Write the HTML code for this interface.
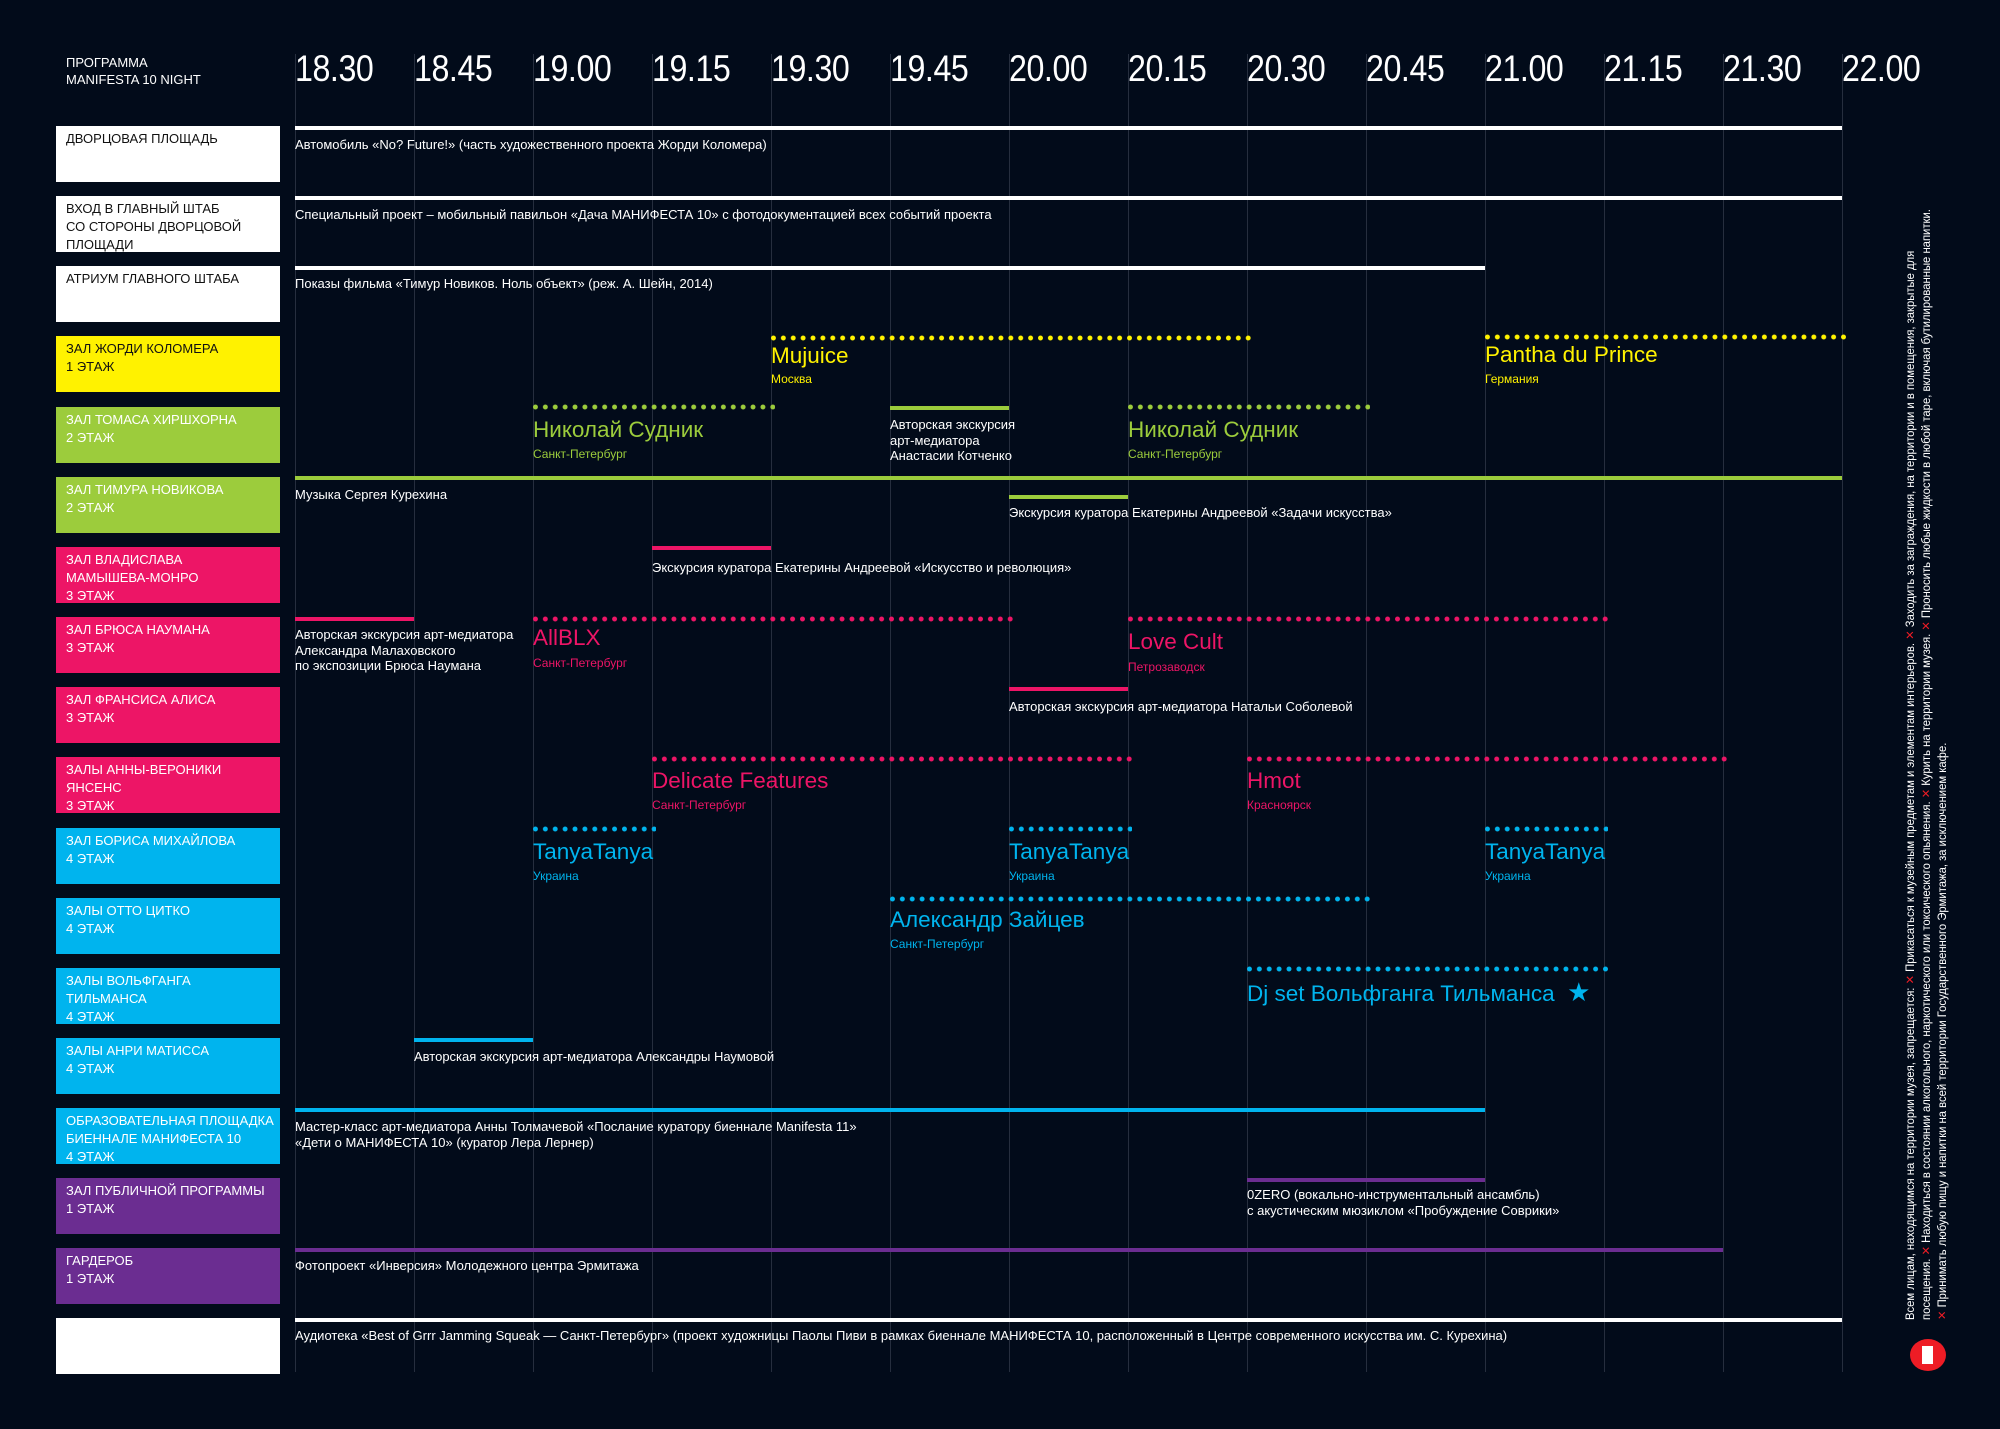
<!DOCTYPE html>
<html><head><meta charset="utf-8">
<style>
*{margin:0;padding:0;box-sizing:border-box}
body{width:2000px;height:1429px;background:#020b1a;position:relative;overflow:hidden;font-family:"Liberation Sans","DejaVu Sans",sans-serif;color:#fff}
.g{position:absolute;top:54px;height:1318px;width:1px;background:#262e3e}
.t{position:absolute;top:48px;font-size:37px;transform:scaleX(0.87);transform-origin:left top;color:#fff;letter-spacing:-0.5px}
.b{position:absolute;left:56px;width:224px;height:56px;font-size:13px;line-height:18px;padding:4px 0 0 10px;color:#fff}
.s{position:absolute;height:4px}
.d{position:absolute;height:6px;background-image:radial-gradient(circle,currentColor 2.2px,transparent 2.7px);background-size:9.9px 6px;background-repeat:repeat-x;background-position:-2.5px 0}
.e{position:absolute;font-size:13px;line-height:15.5px;white-space:nowrap;color:#fff}
.n{position:absolute;font-size:22.5px;white-space:nowrap;line-height:26px}
.c{position:absolute;font-size:12px;white-space:nowrap;line-height:14px}
.W{background:#fff}.Y{background:#fff200}.G{background:#9ccc3c}.P{background:#ed1566}.B{background:#00b4ee}.V{background:#6b2d91}
.cy{color:#fff200}.cg{color:#9ccc3c}.cp{color:#ed1566}.cb{color:#00b4ee}
</style></head><body>

<div class="g" style="left:295px"></div><div class="g" style="left:414px"></div><div class="g" style="left:533px"></div><div class="g" style="left:652px"></div><div class="g" style="left:771px"></div><div class="g" style="left:890px"></div><div class="g" style="left:1009px"></div><div class="g" style="left:1128px"></div><div class="g" style="left:1247px"></div><div class="g" style="left:1366px"></div><div class="g" style="left:1485px"></div><div class="g" style="left:1604px"></div><div class="g" style="left:1723px"></div><div class="g" style="left:1842px"></div>

<div style="position:absolute;left:66px;top:54px;font-size:13px;line-height:17px">ПРОГРАММА<br>MANIFESTA 10 NIGHT</div>

<div class="t" style="left:295px">18.30</div><div class="t" style="left:414px">18.45</div><div class="t" style="left:533px">19.00</div><div class="t" style="left:652px">19.15</div><div class="t" style="left:771px">19.30</div><div class="t" style="left:890px">19.45</div><div class="t" style="left:1009px">20.00</div><div class="t" style="left:1128px">20.15</div><div class="t" style="left:1247px">20.30</div><div class="t" style="left:1366px">20.45</div><div class="t" style="left:1485px">21.00</div><div class="t" style="left:1604px">21.15</div><div class="t" style="left:1723px">21.30</div><div class="t" style="left:1842px">22.00</div>

<div class="b W" style="top:126px;color:#111">ДВОРЦОВАЯ ПЛОЩАДЬ</div>
<div class="b W" style="top:196px;color:#111">ВХОД В ГЛАВНЫЙ ШТАБ<br>СО СТОРОНЫ ДВОРЦОВОЙ<br>ПЛОЩАДИ</div>
<div class="b W" style="top:266px;color:#111">АТРИУМ ГЛАВНОГО ШТАБА</div>
<div class="b Y" style="top:336px;color:#111">ЗАЛ ЖОРДИ КОЛОМЕРА<br>1 ЭТАЖ</div>
<div class="b G" style="top:407px">ЗАЛ ТОМАСА ХИРШХОРНА<br>2 ЭТАЖ</div>
<div class="b G" style="top:477px">ЗАЛ ТИМУРА НОВИКОВА<br>2 ЭТАЖ</div>
<div class="b P" style="top:547px">ЗАЛ ВЛАДИСЛАВА<br>МАМЫШЕВА-МОНРО<br>3 ЭТАЖ</div>
<div class="b P" style="top:617px">ЗАЛ БРЮСА НАУМАНА<br>3 ЭТАЖ</div>
<div class="b P" style="top:687px">ЗАЛ ФРАНСИСА АЛИСА<br>3 ЭТАЖ</div>
<div class="b P" style="top:757px">ЗАЛЫ АННЫ-ВЕРОНИКИ<br>ЯНСЕНС<br>3 ЭТАЖ</div>
<div class="b B" style="top:828px">ЗАЛ БОРИСА МИХАЙЛОВА<br>4 ЭТАЖ</div>
<div class="b B" style="top:898px">ЗАЛЫ ОТТО ЦИТКО<br>4 ЭТАЖ</div>
<div class="b B" style="top:968px">ЗАЛЫ ВОЛЬФГАНГА<br>ТИЛЬМАНСА<br>4 ЭТАЖ</div>
<div class="b B" style="top:1038px">ЗАЛЫ АНРИ МАТИССА<br>4 ЭТАЖ</div>
<div class="b B" style="top:1108px">ОБРАЗОВАТЕЛЬНАЯ ПЛОЩАДКА<br>БИЕННАЛЕ МАНИФЕСТА 10<br>4 ЭТАЖ</div>
<div class="b V" style="top:1178px">ЗАЛ ПУБЛИЧНОЙ ПРОГРАММЫ<br>1 ЭТАЖ</div>
<div class="b V" style="top:1248px">ГАРДЕРОБ<br>1 ЭТАЖ</div>
<div class="b W" style="top:1318px"></div>

<div class="s W" style="left:295px;width:1547px;top:126px"></div>
<div class="e" style="left:295px;top:137px">Автомобиль «No? Future!» (часть художественного проекта Жорди Коломера)</div>
<div class="s W" style="left:295px;width:1547px;top:196px"></div>
<div class="e" style="left:295px;top:207px">Специальный проект – мобильный павильон «Дача МАНИФЕСТА 10» с фотодокументацией всех событий проекта</div>
<div class="s W" style="left:295px;width:1190px;top:266px"></div>
<div class="e" style="left:295px;top:276px">Показы фильма «Тимур Новиков. Ноль объект» (реж. А. Шейн, 2014)</div>

<div class="d cy" style="left:771px;width:480px;top:335px"></div>
<div class="n cy" style="left:771px;top:343px">Mujuice</div>
<div class="c cy" style="left:771px;top:372px">Москва</div>
<div class="d cy" style="left:1485px;width:362px;top:334px"></div>
<div class="n cy" style="left:1485px;top:342px">Pantha du Prince</div>
<div class="c cy" style="left:1485px;top:372px">Германия</div>

<div class="d cg" style="left:533px;width:242px;top:404px"></div>
<div class="n cg" style="left:533px;top:417px">Николай Судник</div>
<div class="c cg" style="left:533px;top:447px">Санкт-Петербург</div>
<div class="s G" style="left:890px;width:119px;top:406px"></div>
<div class="e" style="left:890px;top:417px">Авторская экскурсия<br>арт-медиатора<br>Анастасии Котченко</div>
<div class="d cg" style="left:1128px;width:242px;top:404px"></div>
<div class="n cg" style="left:1128px;top:417px">Николай Судник</div>
<div class="c cg" style="left:1128px;top:447px">Санкт-Петербург</div>

<div class="s G" style="left:295px;width:1547px;top:476px"></div>
<div class="e" style="left:295px;top:487px">Музыка Сергея Курехина</div>
<div class="s G" style="left:1009px;width:119px;top:495px"></div>
<div class="e" style="left:1009px;top:505px">Экскурсия куратора Екатерины Андреевой «Задачи искусства»</div>

<div class="s P" style="left:652px;width:119px;top:546px"></div>
<div class="e" style="left:652px;top:560px">Экскурсия куратора Екатерины Андреевой «Искусство и революция»</div>

<div class="s P" style="left:295px;width:119px;top:617px"></div>
<div class="e" style="left:295px;top:627px">Авторская экскурсия арт-медиатора<br>Александра Малаховского<br>по экспозиции Брюса Наумана</div>
<div class="d cp" style="left:533px;width:480px;top:616px"></div>
<div class="n cp" style="left:533px;top:625px">AllBLX</div>
<div class="c cp" style="left:533px;top:656px">Санкт-Петербург</div>
<div class="d cp" style="left:1128px;width:480px;top:616px"></div>
<div class="n cp" style="left:1128px;top:629px">Love Cult</div>
<div class="c cp" style="left:1128px;top:660px">Петрозаводск</div>

<div class="s P" style="left:1009px;width:119px;top:687px"></div>
<div class="e" style="left:1009px;top:699px">Авторская экскурсия арт-медиатора Натальи Соболевой</div>

<div class="d cp" style="left:652px;width:480px;top:756px"></div>
<div class="n cp" style="left:652px;top:768px">Delicate Features</div>
<div class="c cp" style="left:652px;top:798px">Санкт-Петербург</div>
<div class="d cp" style="left:1247px;width:480px;top:756px"></div>
<div class="n cp" style="left:1247px;top:768px">Hmot</div>
<div class="c cp" style="left:1247px;top:798px">Красноярск</div>

<div class="d cb" style="left:533px;width:123px;top:826px"></div>
<div class="n cb" style="left:533px;top:839px">TanyaTanya</div>
<div class="c cb" style="left:533px;top:869px">Украина</div>
<div class="d cb" style="left:1009px;width:123px;top:826px"></div>
<div class="n cb" style="left:1009px;top:839px">TanyaTanya</div>
<div class="c cb" style="left:1009px;top:869px">Украина</div>
<div class="d cb" style="left:1485px;width:123px;top:826px"></div>
<div class="n cb" style="left:1485px;top:839px">TanyaTanya</div>
<div class="c cb" style="left:1485px;top:869px">Украина</div>

<div class="d cb" style="left:890px;width:480px;top:896px"></div>
<div class="n cb" style="left:890px;top:907px">Александр Зайцев</div>
<div class="c cb" style="left:890px;top:937px">Санкт-Петербург</div>

<div class="d cb" style="left:1247px;width:361px;top:966px"></div>
<div class="n cb" style="left:1247px;top:979px">Dj set Вольфганга Тильманса &nbsp;<span style="font-size:26px">★</span></div>

<div class="s B" style="left:414px;width:119px;top:1038px"></div>
<div class="e" style="left:414px;top:1049px">Авторская экскурсия арт-медиатора Александры Наумовой</div>

<div class="s B" style="left:295px;width:1190px;top:1108px"></div>
<div class="e" style="left:295px;top:1119px">Мастер-класс арт-медиатора Анны Толмачевой «Послание куратору биеннале Manifesta 11»<br>«Дети о МАНИФЕСТА 10» (куратор Лера Лернер)</div>

<div class="s V" style="left:1247px;width:238px;top:1178px"></div>
<div class="e" style="left:1247px;top:1187px">0ZERO (вокально-инструментальный ансамбль)<br>с акустическим мюзиклом «Пробуждение Соврики»</div>

<div class="s V" style="left:295px;width:1428px;top:1248px"></div>
<div class="e" style="left:295px;top:1258px">Фотопроект «Инверсия» Молодежного центра Эрмитажа</div>

<div class="s W" style="left:295px;width:1547px;top:1318px"></div>
<div class="e" style="left:295px;top:1328px">Аудиотека «Best of Grrr Jamming Squeak — Санкт-Петербург» (проект художницы Паолы Пиви в рамках биеннале МАНИФЕСТА 10, расположенный в Центре современного искусства им. С. Курехина)</div>

<div style="position:absolute;left:1903px;top:1320px;transform:rotate(-90deg);transform-origin:left top;font-size:11.5px;line-height:16px;white-space:nowrap;color:#fff">
<div style="transform:scaleX(0.98);transform-origin:left top">Всем лицам, находящимся на территории музея, запрещается: <span style="color:#ee1c25">✕</span> Прикасаться к музейным предметам и элементам интерьеров. <span style="color:#ee1c25">✕</span> Заходить за заграждения, на территории и в помещения, закрытые для<br>посещения. <span style="color:#ee1c25">✕</span> Находиться в состоянии алкогольного, наркотического или токсического опьянения. <span style="color:#ee1c25">✕</span> Курить на территории музея. <span style="color:#ee1c25">✕</span> Проносить любые жидкости в любой таре, включая бутилированные напитки.<br><span style="color:#ee1c25">✕</span> Принимать любую пищу и напитки на всей территории Государственного Эрмитажа, за исключением кафе.</div>
</div>
<div style="position:absolute;left:1910px;top:1339px;width:36px;height:32px;border-radius:50%;background:#ee1c25"></div>
<div style="position:absolute;left:1922px;top:1346px;width:11px;height:18px;background:#fff"></div>

</body></html>
